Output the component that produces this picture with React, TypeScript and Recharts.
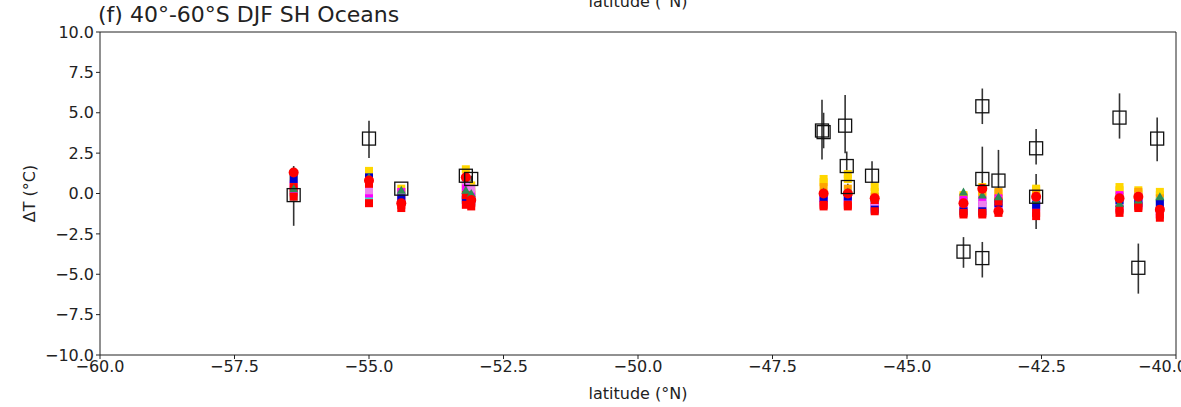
import React from "react";
import { ScatterChart, Scatter, XAxis, YAxis, ErrorBar, ReferenceLine, Label } from "recharts";

// ---- data ----
const xTicks = [-60, -57.5, -55, -52.5, -50, -47.5, -45, -42.5, -40];
const yTicks = [-10, -7.5, -5, -2.5, 0, 2.5, 5, 7.5, 10];

const modelLats = [-56.4, -55.0, -54.4, -53.2, -53.1, -46.55, -46.1, -45.6, -43.95, -43.6, -43.3, -42.6, -41.05, -40.7, -40.3];
const goldVals = [0.2, 1.4, 0.3, 0.6, 0.1, 0.9, 1.2, 0.4, -0.1, 0.4, 0.0, 0.2, 0.4, 0.2, 0.1];
const gold2Vals = [1.0, -0.4, 0.1, 1.5, 0.5, 0.7, 0.9, 0.1, -1.0, 0.1, -0.3, 0.3, 0.2, 0.0, -0.1];
const orangeVals = [0.0, 0.1, -0.4, 0.3, -0.1, 0.4, 0.3, -0.2, -0.2, 0.0, 0.1, 0.0, -0.2, 0.1, -0.3];
const cyanVals = [-0.2, -0.2, -0.1, -0.3, -0.2, -0.1, 0.0, -0.5, -0.5, -0.6, -0.7, -0.8, -0.7, -0.4, -0.5];
const magentaVals = [0.5, 0.4, 0.1, -0.2, -0.3, -0.5, -0.5, -0.6, -0.4, -0.4, -0.3, -0.9, -0.1, -0.5, -1.3];
const magenta2Vals = [0.1, 0.0, -0.4, 0.4, 0.0, -0.3, -0.3, -0.8, -0.8, -0.8, -0.9, -0.5, -0.9, -0.7, -1.1];
const violetVals = [0.6, 0.2, -0.2, 0.8, 0.3, -0.6, -0.6, -0.9, -0.7, -0.7, -1.0, -0.6, -0.8, -0.2, -0.7];
const blueVals = [0.9, 1.0, -0.3, -0.4, -0.5, -0.3, -0.2, -1.0, -1.1, -1.1, -0.6, -0.7, -0.4, -0.6, -0.6];
const redVals = [-0.2, -0.6, -0.9, -0.7, -0.8, -0.8, -0.8, -1.1, -1.3, -1.3, -1.2, -1.4, -1.2, -0.9, -1.5];
const red2Vals = [0.4, 0.6, -0.7, -0.1, -0.6, -0.7, -0.7, -0.4, -1.2, -1.2, -0.5, -1.2, -1.0, -0.8, -1.3];
const greenVals = [0.3, 1.0, 0.2, 0.2, 0.0, 0.1, 0.1, -0.3, 0.1, -0.1, -0.2, -0.4, -0.6, -0.4, -0.2];
const redCircleVals = [1.3, 0.8, -0.6, 1.0, -0.4, 0.0, 0.0, -0.3, -0.6, 0.3, -1.1, -0.2, -0.3, -0.2, -1.0];

const obsLats = [-56.4, -55.0, -54.4, -53.2, -53.1, -46.58, -46.55, -46.15, -46.12, -46.1, -45.65, -43.95, -43.6, -43.6, -43.6, -43.3, -42.6, -42.6, -41.05, -40.7, -40.35];
const obsVals = [-0.1, 3.4, 0.3, 1.1, 0.9, 3.9, 3.8, 4.2, 1.7, 0.4, 1.1, -3.6, 5.4, 0.9, -4.0, 0.8, 2.8, -0.2, 4.7, -4.6, 3.4];
const obsLow = [-2.0, 2.2, 0.1, 0.8, 0.7, 2.1, 2.8, 2.5, 0.9, 0.2, 0.2, -4.6, 4.3, -0.8, -5.2, -0.3, 1.8, -2.2, 3.4, -6.2, 2.0];
const obsHigh = [1.7, 4.5, 0.5, 1.6, 1.1, 5.8, 5.0, 6.1, 2.6, 0.6, 2.0, -2.7, 6.5, 2.9, -3.0, 2.7, 4.0, 1.2, 6.2, -3.1, 4.7];

const models = [
  { name: "gold", color: "#FFD700", kind: "square", vals: goldVals },
  { name: "gold2", color: "#FFD700", kind: "square", vals: gold2Vals },
  { name: "orange", color: "#FFA500", kind: "square", vals: orangeVals },
  { name: "cyan", color: "#40E0D0", kind: "square", vals: cyanVals },
  { name: "magenta", color: "#FF00FF", kind: "square", vals: magentaVals },
  { name: "magenta2", color: "#FF00FF", kind: "square", vals: magenta2Vals },
  { name: "violet", color: "#EE82EE", kind: "square", vals: violetVals },
  { name: "blue", color: "#0000CC", kind: "square", vals: blueVals },
  { name: "red", color: "#FF0000", kind: "square", vals: redVals },
  { name: "red2", color: "#FF0000", kind: "square", vals: red2Vals },
  { name: "green", color: "#2E8B57", kind: "triangle", vals: greenVals },
  { name: "redcircle", color: "#FF0000", kind: "circle", vals: redCircleVals },
];

const obsData = obsLats.map((lat, i) => ({
  x: lat,
  y: obsVals[i],
  err: [obsVals[i] - obsLow[i], obsHigh[i] - obsVals[i]],
}));

const makeShape = (kind: string, color: string) => (props: any) => {
  const { cx, cy } = props;
  if (cx == null || cy == null) return <g />;
  if (kind === "circle") {
    return <circle cx={cx} cy={cy} r={5} fill={color} />;
  }
  if (kind === "triangle") {
    return <polygon points={`${cx},${cy - 4.5} ${cx - 4.5},${cy + 3.5} ${cx + 4.5},${cy + 3.5}`} fill={color} />;
  }
  return <rect x={cx - 4} y={cy - 4} width={8} height={8} fill={color} />;
};

const obsShape = (props: any) => {
  const { cx, cy } = props;
  if (cx == null || cy == null) return <g />;
  return <rect x={cx - 6.5} y={cy - 6.5} width={13} height={13} fill="none" stroke="#111" strokeWidth={1.3} />;
};

const fmt = (v: number) => v.toFixed(1).replace("-", "\u2212");
const font = "'DejaVu Sans', sans-serif";

export default function App() {
  return (
    <div style={{ position: "relative", width: 1181, height: 407, background: "#fff", fontFamily: font, overflow: "hidden" }}>
      <style>{`body{margin:0;}`}</style>
      <div style={{ position: "absolute", left: 0, width: 1181, top: -8, textAlign: "center", fontSize: 16, color: "#222", paddingLeft: 95, boxSizing: "border-box", lineHeight: "19px" }}>
        latitude (°N)
      </div>
      <div style={{ position: "absolute", left: 98, top: 2, fontSize: 22, color: "#222", lineHeight: "26px" }}>
        (f) 40°-60°S DJF SH Oceans
      </div>
      <ScatterChart width={1181} height={407} margin={{ top: 32, right: 5, bottom: 22, left: 0 }}>
        <XAxis
          type="number"
          dataKey="x"
          domain={[-60, -40]}
          ticks={xTicks}
          allowDataOverflow
          tickFormatter={fmt}
          height={30}
          stroke="#222"
          tickSize={4}
          tick={{ fill: "#222", fontSize: 16, fontFamily: font }}
        >
          <Label value="latitude (°N)" position="insideBottom" offset={-14} style={{ fill: "#222", fontSize: 16, fontFamily: font }} />
        </XAxis>
        <YAxis
          type="number"
          dataKey="y"
          domain={[-10, 10]}
          ticks={yTicks}
          allowDataOverflow
          tickFormatter={fmt}
          width={100}
          stroke="#222"
          tickSize={4}
          tick={{ fill: "#222", fontSize: 16, fontFamily: font }}
        >
          <Label value="ΔT (°C)" angle={-90} position="insideLeft" offset={29} style={{ fill: "#222", fontSize: 16, fontFamily: font, textAnchor: "middle" }} />
        </YAxis>
        <ReferenceLine y={10} stroke="#222" ifOverflow="extendDomain" />
        <ReferenceLine x={-40} stroke="#222" ifOverflow="extendDomain" />
        {models.map((m) => (
          <Scatter
            key={m.name}
            name={m.name}
            data={modelLats.map((lat, i) => ({ x: lat, y: m.vals[i] }))}
            shape={makeShape(m.kind, m.color)}
            isAnimationActive={false}
          />
        ))}
        <Scatter name="obs" data={obsData} shape={obsShape} isAnimationActive={false}>
          <ErrorBar dataKey="err" direction="y" width={0} stroke="#333" strokeWidth={1.6} />
        </Scatter>
      </ScatterChart>
    </div>
  );
}
